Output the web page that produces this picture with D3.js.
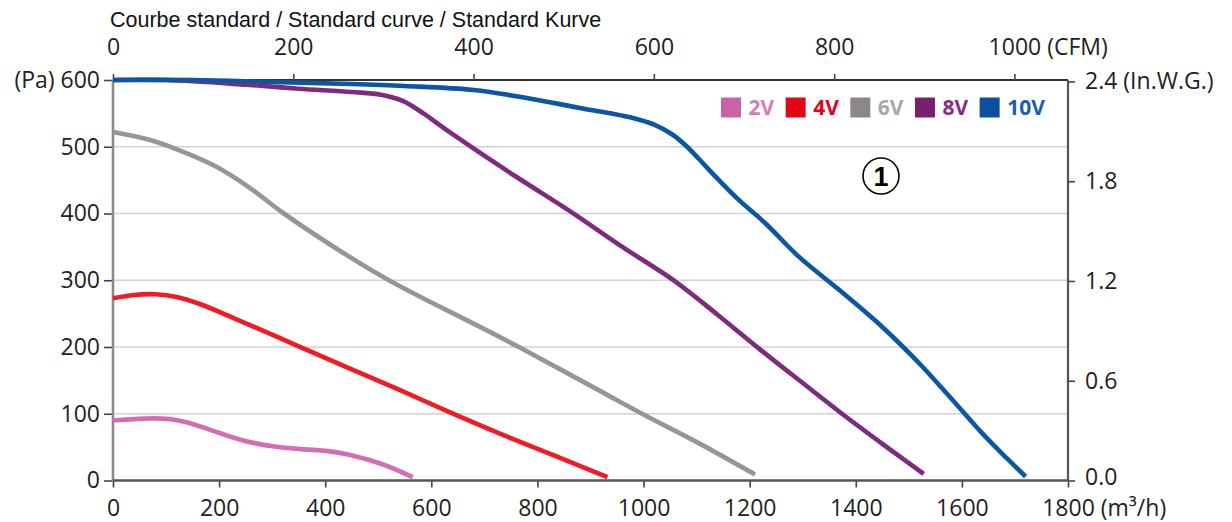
<!DOCTYPE html>
<html><head><meta charset="utf-8">
<script src="https://cdn.jsdelivr.net/npm/d3@7"></script>
<style>
body{margin:0;background:#fff}
svg{display:block}
text{font-family:"Open Sans",sans-serif}
</style>
</head><body>
<svg id="c" width="1232" height="522"></svg>
<script>
// ---------- data ----------
const title = "Courbe standard / Standard curve / Standard Kurve";
const seriesNames = ["2V", "4V", "6V", "8V", "10V"];

const flow2V = [0, 40, 80, 115, 153, 190, 228, 266, 304, 354, 405, 443, 481, 519, 565];
const pa2V   = [90, 92, 93, 91, 84, 74, 64, 56, 51, 47, 44, 39, 31, 21, 5];

const flow4V = [0, 40, 80, 120, 165, 225, 290, 350, 440, 539, 630, 727, 830, 932];
const pa4V   = [273, 278, 279, 275, 264, 244, 222, 201, 170, 136, 104, 71, 38, 5];

const flow6V = [0, 70, 130, 195, 255, 322, 426, 520, 602, 702, 765, 916, 997, 1104, 1210];
const pa6V   = [522, 510, 493, 470, 440, 400, 345, 300, 266, 226, 200, 135, 100, 56, 9];

const flow8V = [0, 100, 250, 350, 450, 505, 545, 585, 625, 671, 760, 866, 960, 1060, 1140, 1217, 1300, 1374, 1450, 1528];
const pa8V   = [600, 600, 593, 587, 582, 578, 569, 550, 527, 502, 455, 401, 350, 298, 248, 198, 146, 100, 55, 10];

const flow10V = [0, 150, 300, 450, 550, 680, 780, 880, 980, 1020, 1055, 1082, 1104, 1136, 1180, 1230, 1293, 1368, 1450, 1519, 1582, 1638, 1685, 1720];
const pa10V   = [600, 600, 597, 594, 591, 585, 573, 558, 543, 533, 518, 500, 482, 455, 420, 385, 335, 286, 230, 176, 121, 71, 33, 6];

const xTicksM3h = [0, 200, 400, 600, 800, 1000, 1200, 1400, 1600, 1800];
const yTicksPa = [0, 100, 200, 300, 400, 500, 600];
const gridPa = [100, 200, 300, 400, 500];
const topTicksCFM = [0, 200, 400, 600, 800, 1000];
const rightTicksInWG = [0, 0.6, 1.2, 1.8, 2.4];
const M3H_PER_CFM = 1.69901;
const PA_PER_INWG = 249.089;

// ---------- styles ----------
const lineColors   = ["#d46db3", "#ee1c25", "#979595", "#7d2a7f", "#0d56a6"];
const swatchColors = ["#c964a4", "#e30613", "#8c8888", "#7a1f6d", "#0c4ea0"];
const labelColors  = ["#d77cba", "#e2001a", "#a8a8a8", "#8a2a84", "#1560b0"];

const series = [
  {name: seriesNames[0], flow: flow2V, pa: pa2V},
  {name: seriesNames[1], flow: flow4V, pa: pa4V},
  {name: seriesNames[2], flow: flow6V, pa: pa6V},
  {name: seriesNames[3], flow: flow8V, pa: pa8V},
  {name: seriesNames[4], flow: flow10V, pa: pa10V}
];

const svg = d3.select("#c");
const X0 = 113, X1 = 1068, YB = 480.5, YT = 80;
const x = d3.scaleLinear().domain([0, 1800]).range([X0, X1]);
const y = d3.scaleLinear().domain([0, 600]).range([YB, YT]);
const xTop = d3.scaleLinear().domain([0, 1800 / M3H_PER_CFM]).range([X0, X1]);
const yRight = d3.scaleLinear().domain([0, 600 / PA_PER_INWG]).range([YB, YT]);

const FS = 23;

// title
svg.append("text").attr("x", 110).attr("y", 26.5)
  .style("font-family", "'Liberation Sans', Arial, sans-serif")
  .style("font-size", "21.5px").attr("fill", "#111").text(title);

// gridlines
svg.append("g").selectAll("line").data(gridPa).join("line")
  .attr("x1", X0).attr("x2", X1)
  .attr("y1", d => y(d)).attr("y2", d => y(d))
  .attr("stroke", "#d2d2d2").attr("stroke-width", 1.6);

// frame top / right
svg.append("line").attr("x1", X0).attr("x2", X1).attr("y1", y(600)).attr("y2", y(600))
  .attr("stroke", "#333").attr("stroke-width", 2);
svg.append("line").attr("x1", X1).attr("x2", X1).attr("y1", y(600)).attr("y2", y(0))
  .attr("stroke", "#555").attr("stroke-width", 2.2);

function styleAxis(g) {
  g.select(".domain").remove();
  g.selectAll(".tick line").attr("stroke", "#444").attr("stroke-width", 1.6);
  g.selectAll(".tick text").attr("fill", "#222").style("font-size", FS + "px")
    .style("font-family", "'Open Sans', sans-serif");
}

// left axis
const gL = svg.append("g").attr("transform", `translate(${X0},0)`)
  .call(d3.axisLeft(y).tickValues(yTicksPa).tickFormat(d3.format("d")).tickSize(9).tickPadding(4));
styleAxis(gL);
gL.selectAll(".tick text").filter(d => d === 600).text("(Pa) 600");

// bottom axis
const gB = svg.append("g").attr("transform", `translate(0,${YB})`)
  .call(d3.axisBottom(x).tickValues(xTicksM3h).tickFormat(d3.format("d")).tickSize(7).tickPadding(12.5));
styleAxis(gB);
gB.selectAll(".tick text").filter(d => d === 1800).each(function() {
  const w = this.getComputedTextLength();
  d3.select(this).attr("text-anchor", "start").attr("x", -w / 2).text("1800 (m³/h)");
});

// top axis (CFM)
const gT = svg.append("g").attr("transform", `translate(0,${YT})`)
  .call(d3.axisTop(xTop).tickValues(topTicksCFM).tickFormat(d3.format("d")).tickSize(6).tickPadding(19));
styleAxis(gT);
gT.selectAll(".tick text").filter(d => d === 1000).each(function() {
  const w = this.getComputedTextLength();
  d3.select(this).attr("text-anchor", "start").attr("x", -w / 2).text("1000 (CFM)");
});

// right axis (In.W.G.)
const gR = svg.append("g").attr("transform", `translate(${X1},0)`)
  .call(d3.axisRight(yRight).tickValues(rightTicksInWG).tickFormat(d3.format(".1f")).tickSize(7).tickPadding(10));
styleAxis(gR);
gR.selectAll(".tick text").filter(d => d === 2.4).text("2.4 (In.W.G.)");
gR.selectAll(".tick text").filter(d => d === 0).attr("y", -3);

// left / bottom axis lines
svg.append("line").attr("x1", X0).attr("x2", X0).attr("y1", y(600)).attr("y2", y(0) + 1)
  .attr("stroke", "#8a8a8a").attr("stroke-width", 2.6);
svg.append("line").attr("x1", X0).attr("x2", X1 + 1).attr("y1", y(0)).attr("y2", y(0))
  .attr("stroke", "#555").attr("stroke-width", 2.6);

// curves
const line = d3.line().x(d => x(d[0])).y(d => y(d[1])).curve(d3.curveCatmullRom.alpha(0.5));
svg.append("g").selectAll("path").data(series).join("path")
  .attr("d", s => line(s.flow.map((f, i) => [f, s.pa[i]])))
  .attr("fill", "none")
  .attr("stroke", (s, i) => lineColors[i])
  .attr("stroke-width", 4.6)
  .attr("stroke-linecap", "butt")
  .attr("stroke-linejoin", "round");

// legend
const lg = svg.append("g");
let lx = 721;
const ly = 107.5;
series.forEach((s, i) => {
  lg.append("rect").attr("x", lx).attr("y", ly - 10).attr("width", 20).attr("height", 20)
    .attr("fill", swatchColors[i]);
  const t = lg.append("text").attr("x", lx + 27.5).attr("y", ly).attr("dy", "0.36em")
    .style("font-size", "21px").style("font-weight", "700")
    .attr("fill", labelColors[i]).text(s.name);
  lx = lx + 27.5 + t.node().getComputedTextLength() + 11.5;
});

// circled marker "1"
svg.append("circle").attr("cx", 881).attr("cy", 176).attr("r", 18)
  .attr("fill", "none").attr("stroke", "#000").attr("stroke-width", 1.6);
svg.append("text").attr("x", 881).attr("y", 176).attr("dy", "0.36em")
  .attr("text-anchor", "middle")
  .style("font-family", "'Liberation Sans', Arial, sans-serif")
  .style("font-size", "27px").style("font-weight", "700").attr("fill", "#000").text("1");
</script>
</body></html>
